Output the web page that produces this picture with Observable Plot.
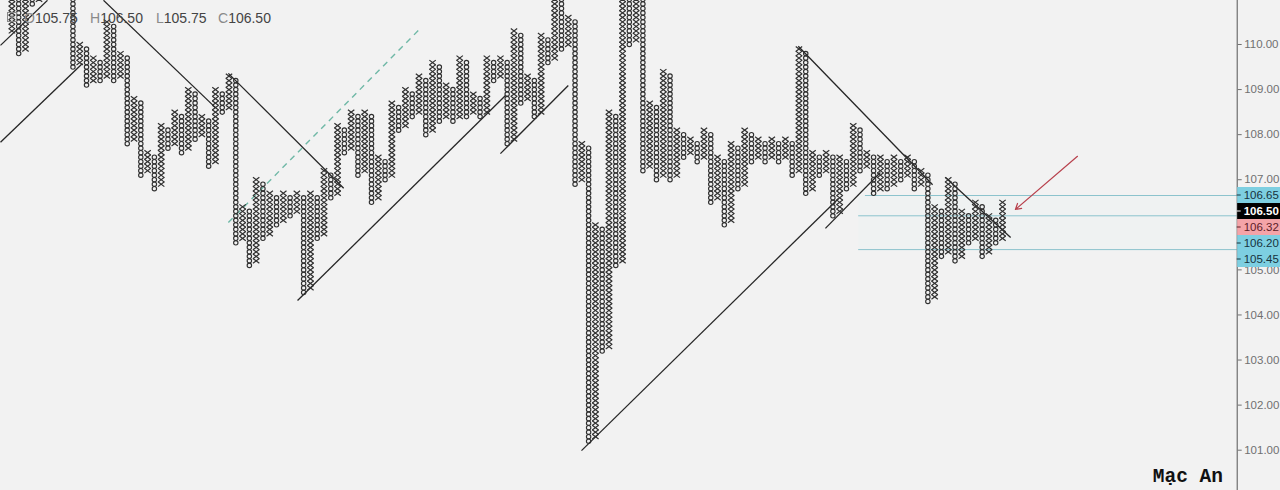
<!DOCTYPE html>
<html>
<head>
<meta charset="utf-8">
<script src="https://cdn.jsdelivr.net/npm/d3@7"></script>
<script src="https://cdn.jsdelivr.net/npm/@observablehq/plot@0.6"></script>
<style>
html,body{margin:0;padding:0;background:#f2f2f2;overflow:hidden}
#chart{position:relative;width:1280px;height:490px}
</style>
</head>
<body>
<div id="chart"></div>
<script>
// ---------- data (point & figure, box 0.10, 3-box reversal) ----------
const boxSize = 0.1;
const colType = "XOXOXOXOXO" + "XOXOXOXOXO" + "XOXOXOXOXO" + "XOXOXOXOXO" + "XOXOXOXOXO" +
                "XOXOXOXOXO" + "XOXOXOXOXO" + "XOXOXOXOXO" + "XOXOXOXOXO" + "XOXOXOXOXO" +
                "XOXOXOXOXO" + "XOXOXOXOXO" + "XOXOXOXOXO" + "XOXOXOXOXO" + "XOXOXOX";
const colLow = [
  110.3,109.8,109.9,110.9,111.0,111.2,111.3,111.3,111.4,109.5,
  109.6,109.1,109.2,109.2,109.3,109.2,109.3,107.8,107.9,107.1,
  107.2,106.8,106.9,107.7,107.8,107.6,107.7,107.9,108.0,107.3,
  107.4,108.5,108.6,105.6,105.7,105.1,105.2,105.7,105.8,106.0,
  106.1,106.2,106.3,104.5,104.6,105.7,105.8,106.6,106.7,107.6,
  107.7,107.1,107.2,106.5,106.6,107.0,107.1,108.1,108.2,108.4,
  108.5,108.0,108.1,108.3,108.4,108.3,108.4,108.4,108.5,108.4,
  108.5,109.2,109.3,107.8,107.9,108.7,108.8,108.4,108.5,109.6,
  109.7,109.9,110.0,106.9,107.0,101.2,101.3,103.2,103.3,105.1,
  105.2,110.0,110.1,107.2,107.3,107.0,107.1,107.0,107.1,107.5,
  107.6,107.4,107.5,106.5,106.6,106.0,106.1,106.8,106.9,107.4,
  107.5,107.4,107.5,107.4,107.5,107.1,107.2,106.7,106.8,107.1,
  107.2,106.2,106.3,106.8,106.9,107.2,107.3,106.7,106.8,106.8,
  106.9,107.0,107.1,106.8,106.9,104.3,104.4,105.3,105.4,105.2,
  105.3,105.6,105.7,105.3,105.4,105.6,105.7
];
const colHigh = [
  111.2,111.1,111.5,111.4,111.8,111.7,112.0,111.9,112.0,111.9,
  110.0,109.9,109.7,109.6,110.5,110.4,109.8,109.7,108.8,108.7,
  107.6,107.5,108.2,108.1,108.5,108.4,109.0,108.9,108.4,108.3,
  109.0,108.9,109.3,109.2,106.4,106.3,107.0,106.9,106.7,106.6,
  106.7,106.6,106.7,106.6,106.7,106.6,107.2,107.1,108.2,108.1,
  108.5,108.4,108.5,108.4,107.5,107.4,108.7,108.6,109.0,108.9,
  109.3,109.2,109.6,109.5,109.1,109.0,109.7,109.6,108.9,108.8,
  109.7,109.6,109.7,109.6,110.3,110.2,109.3,109.2,110.2,110.1,
  111.2,111.1,110.6,110.5,107.8,107.7,106.0,105.9,108.5,108.4,
  111.3,111.2,111.3,111.2,108.7,108.6,109.4,109.3,108.1,108.0,
  107.9,107.8,108.1,108.0,107.5,107.4,107.8,107.7,108.1,108.0,
  107.9,107.8,107.9,107.8,107.9,107.8,109.9,109.8,107.6,107.5,
  107.6,107.5,107.5,107.4,108.2,108.1,107.6,107.5,107.5,107.4,
  107.5,107.4,107.5,107.4,107.2,107.1,106.4,106.3,107.0,106.9,
  106.3,106.2,106.5,106.4,106.2,106.1,106.5
];
// trend lines: [column1, price1, column2, price2]
const trendCol1   = [13.5, -1.68, -1.68, 31.9, 42.1, 72.0, 83.95, 119.9, 115.9, 137.6];
const trendPrice1 = [110.98, 107.83, 109.98, 109.36, 104.32, 107.58, 100.99, 105.92, 109.96, 107.05];
const trendCol2   = [30.0, 10.4, 5.25, 48.9, 72.75, 82.0, 121.8, 128.0, 135.7, 147.2];
const trendPrice2 = [108.60, 109.58, 110.98, 106.81, 108.87, 109.09, 106.58, 107.16, 106.89, 105.72];
const dashCol = [31.9, 59.9];
const dashPrice = [106.05, 110.31];
const levelPrice = [106.65, 106.20, 105.45];
const levelStart = [125.8, 124.8, 124.8];
const arrowCol = [157.05, 147.9];
const arrowPrice = [107.52, 106.34];
const yTicks = [101, 102, 103, 104, 105, 106, 107, 108, 109, 110];
const tagValues = [106.65, 106.50, 106.32, 106.20, 105.45];
const tagFill = ["#7dcfe1", "#000000", "#f4a4a8", "#7dcfe1", "#7dcfe1"];
const tagText = ["#17323c", "#ffffff", "#5e2029", "#17323c", "#17323c"];
const legendKeys = ["O", "H", "L", "C"];
const legendVals = ["105.75", "106.50", "105.75", "106.50"];
const author = "Mạc An";

// ---------- build ----------
const cells = [];
colType.split("").forEach((t, i) => {
  const n = Math.round((colHigh[i] - colLow[i]) / boxSize);
  for (let k = 0; k <= n; k++) cells.push({col: i, type: t, price: +(colLow[i] + k * boxSize).toFixed(2)});
});
const trends = trendCol1.map((c, i) => ({x1: c, y1: trendPrice1[i], x2: trendCol2[i], y2: trendPrice2[i]}));
const dash = [{x1: dashCol[0], y1: dashPrice[0], x2: dashCol[1], y2: dashPrice[1]}];
const levels = levelPrice.map((p, i) => ({price: p, start: levelStart[i]}));
const arrow = [{x1: arrowCol[0], y1: arrowPrice[0], x2: arrowCol[1], y2: arrowPrice[1]}];

const W = 1280, H = 490, MR = 43.3;
const xDomain = [-1.679, 180.59];
const yDomain = [100.106, 110.976];

const symX = {draw(ctx) { const w = 3.2, h = 2.4; ctx.moveTo(-w, -h); ctx.lineTo(w, h); ctx.moveTo(-w, h); ctx.lineTo(w, -h); }};
const symO = {draw(ctx) { const r = 2.2; ctx.moveTo(r, 0); ctx.arc(0, 0, r, 0, 2 * Math.PI); }};

const chart = Plot.plot({
  width: W, height: H,
  marginLeft: 0, marginRight: MR, marginTop: 0, marginBottom: 0,
  style: {background: "#f2f2f2", fontFamily: "'Liberation Sans', Arial, sans-serif", overflow: "visible"},
  x: {domain: xDomain, axis: null},
  y: {domain: yDomain, axis: null},
  marks: [
    Plot.rect([{x1: levelStart[1], x2: xDomain[1], y1: levelPrice[2], y2: levelPrice[0]}],
      {x1: "x1", x2: "x2", y1: "y1", y2: "y2", fill: "#eaf1f2", fillOpacity: 0.45}),
    Plot.ruleY(levels, {y: "price", x1: "start", x2: () => xDomain[1], stroke: "#8cc3cd", strokeWidth: 1}),
    Plot.link(trends, {x1: "x1", y1: "y1", x2: "x2", y2: "y2", stroke: "#262626", strokeWidth: 1.3, clip: true}),
    Plot.link(dash, {x1: "x1", y1: "y1", x2: "x2", y2: "y2", stroke: "#6fb8a6", strokeWidth: 1.4, strokeDasharray: "6,5"}),
    Plot.dot(cells.filter(d => d.type === "O"), {x: "col", y: "price", symbol: symO, fill: "none", stroke: "#303030", strokeWidth: 1.15, clip: true}),
    Plot.dot(cells.filter(d => d.type === "X"), {x: "col", y: "price", symbol: symX, fill: "none", stroke: "#303030", strokeWidth: 1.2, clip: true}),
    Plot.arrow(arrow, {x1: "x1", y1: "y1", x2: "x2", y2: "y2", stroke: "#b8414d", strokeWidth: 1.2, headLength: 8}),
    Plot.ruleX([xDomain[1]], {stroke: "#555", strokeWidth: 1}),
    Plot.axisY({anchor: "right", ticks: yTicks, tickFormat: d => d.toFixed(2), tickSize: 4, tickPadding: 3, fontSize: 11.5, color: "#707070"})
  ]
});

document.getElementById("chart").appendChild(chart);

// price tags on the right axis, stacked to avoid overlap
const svg = d3.select(chart);
const ys = chart.scale("y");
const xAxisPx = chart.scale("x").apply(xDomain[1]);
const order = tagValues.map((v, i) => i).sort((a, b) => tagValues[b] - tagValues[a]);
let prev = -Infinity;
const tagH = 16;
const tagG = svg.append("g").attr("text-anchor", "start");
order.forEach(i => {
  let py = Math.max(ys.apply(tagValues[i]), prev + tagH);
  prev = py;
  tagG.append("rect").attr("x", xAxisPx + 0.5).attr("y", py - tagH / 2).attr("width", W - xAxisPx).attr("height", tagH).attr("fill", tagFill[i]);
  tagG.append("line").attr("x1", xAxisPx).attr("x2", xAxisPx + 4).attr("y1", py).attr("y2", py).attr("stroke", tagText[i]);
  tagG.append("text").attr("x", xAxisPx + 7).attr("y", py).attr("dy", "0.35em")
    .attr("font-size", 11.5).attr("font-weight", tagFill[i] === "#000000" ? "bold" : "normal")
    .attr("fill", tagText[i]).text(tagValues[i].toFixed(2));
});

// OHLC legend at the top left
const lg = svg.append("g").attr("font-size", 14).attr("text-anchor", "start");
lg.append("rect").attr("x", 7.5).attr("y", 12.5).attr("width", 9).attr("height", 9).attr("fill", "none").attr("stroke", "#888");
lg.append("path").attr("d", "M12,14.5V19.5M9.5,17H14.5").attr("stroke", "#888");
const lx = [24, 90, 156, 218];
legendKeys.forEach((k, i) => {
  const t = lg.append("text").attr("x", lx[i]).attr("y", 23);
  t.append("tspan").attr("fill", "#8a8a8a").text(k);
  t.append("tspan").attr("fill", "#444").text(legendVals[i]);
});

// author mark
svg.append("text").attr("x", 1223).attr("y", 482).attr("text-anchor", "end")
  .attr("font-family", "'Liberation Mono', 'Courier New', monospace").attr("font-weight", "bold")
  .attr("font-size", 19.5).attr("fill", "#111").text(author);
</script>
</body>
</html>
